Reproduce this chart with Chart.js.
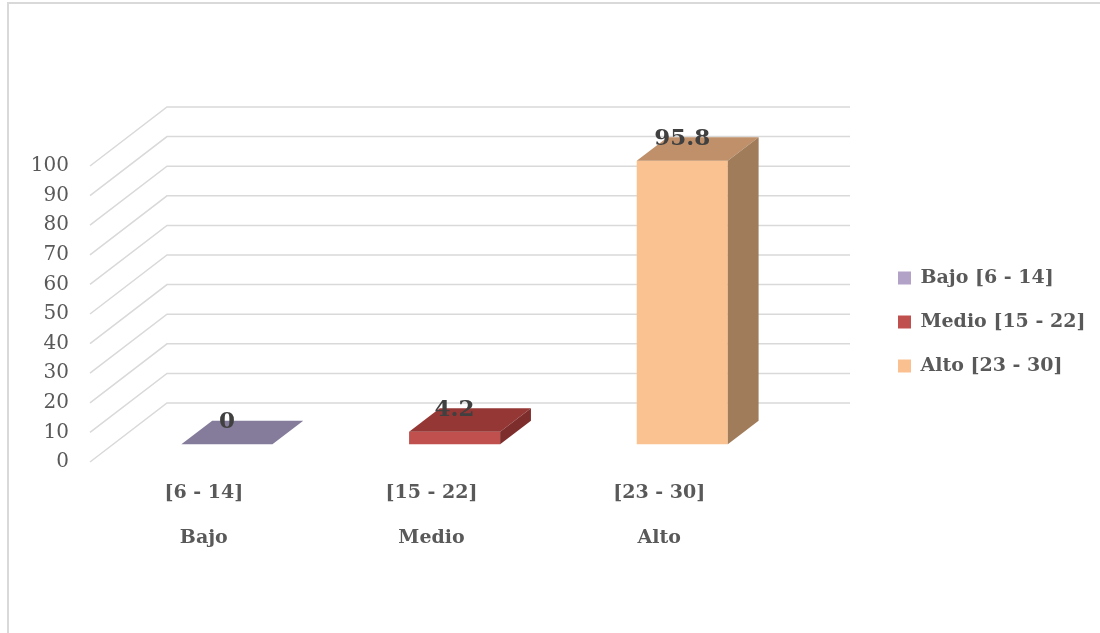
<!DOCTYPE html>
<html>
<head>
<meta charset="utf-8">
<script src="https://cdn.jsdelivr.net/npm/chart.js@4.4.1/dist/chart.umd.min.js"></script>
<style>
  html, body { margin: 0; padding: 0; background: #fff; overflow: hidden; }
  #wrap { position: relative; width: 1100px; height: 633px; }
  #frame { position: absolute; left: 7px; top: 2px; width: 1200px; height: 700px;
           border-left: 2px solid #d9d9d9; border-top: 2px solid #d9d9d9; pointer-events: none; }
</style>
</head>
<body>
<div id="wrap">
  <canvas id="chart"></canvas>
  <div id="frame"></div>
</div>
<script>
// values
const ranges = ['[6 - 14]', '[15 - 22]', '[23 - 30]'];
const levels = ['Bajo', 'Medio', 'Alto'];
const values = [0, 4.2, 95.8];
const yMin = 0, yMax = 100, yStep = 10;

// face colours (front / top / side) and legend swatches
const frontColors = ['#8E81A6', '#C0504D', '#F9C290'];
const topColors = ['#857B9A', '#953735', '#BF9069'];
const sideColors = ['#6E6582', '#7D2D2B', '#A07C5A'];
const legendColors = ['#B3A2C7', '#C0504D', '#FAC090'];

const FONT = 'DejaVu Serif';

// fake 3D: floor depth and where the bars sit in it
const DEPTH_X = 77, DEPTH_Y = -59;
const BAR_FRONT = 0.3, BAR_DEPTH = 0.4;

const fake3d = {
    id: 'fake3d',
    beforeDatasetsDraw(chart) {
        const { ctx, chartArea: a, scales: { y } } = chart;
        // perspective gridlines: diagonal on the side wall, flat on the back wall
        ctx.save();
        ctx.strokeStyle = '#D9D9D9';
        ctx.lineWidth = 1.5;
        y.ticks.forEach(t => {
            const py = y.getPixelForValue(t.value);
            ctx.beginPath();
            ctx.moveTo(a.left, py);
            ctx.lineTo(a.left + DEPTH_X, py + DEPTH_Y);
            ctx.lineTo(a.right + DEPTH_X, py + DEPTH_Y);
            ctx.stroke();
        });
        ctx.restore();
        // push the bars back into the floor
        ctx.save();
        ctx.translate(DEPTH_X * BAR_FRONT, DEPTH_Y * BAR_FRONT);
    },
    afterDatasetsDraw(chart) {
        const { ctx } = chart;
        ctx.restore();
        const dx = DEPTH_X * BAR_DEPTH, dy = DEPTH_Y * BAR_DEPTH;
        ctx.save();
        ctx.translate(DEPTH_X * BAR_FRONT, DEPTH_Y * BAR_FRONT);
        chart.getDatasetMeta(0).data.forEach((bar, i) => {
            const { x, y, base, width } = bar.getProps(['x', 'y', 'base', 'width'], true);
            const l = x - width / 2, r = x + width / 2;
            // top face
            ctx.fillStyle = topColors[i];
            ctx.beginPath();
            ctx.moveTo(l, y);
            ctx.lineTo(r, y);
            ctx.lineTo(r + dx, y + dy);
            ctx.lineTo(l + dx, y + dy);
            ctx.closePath();
            ctx.fill();
            // side face
            if (base - y > 0.5) {
                ctx.fillStyle = sideColors[i];
                ctx.beginPath();
                ctx.moveTo(r, y);
                ctx.lineTo(r + dx, y + dy);
                ctx.lineTo(r + dx, base + dy);
                ctx.lineTo(r, base);
                ctx.closePath();
                ctx.fill();
            }
            // value label
            ctx.fillStyle = '#404040';
            ctx.font = 'bold 23px "' + FONT + '"';
            ctx.textAlign = 'center';
            ctx.textBaseline = 'middle';
            ctx.fillText(String(values[i]), x, y - 22);
        });
        ctx.restore();
    }
};

new Chart(document.getElementById('chart'), {
    type: 'bar',
    data: {
        labels: ranges.map((r, i) => [r, levels[i]]),
        datasets: [{
            label: 'Nivel',
            data: values,
            backgroundColor: frontColors,
            borderWidth: 0,
            barPercentage: 0.4,
            categoryPercentage: 1.0,
            clip: false
        }]
    },
    options: {
        responsive: true,
        maintainAspectRatio: false,
        animation: false,
        layout: { padding: { top: 166, left: 0, right: 12, bottom: 61 } },
        plugins: {
            tooltip: { enabled: false },
            legend: {
                position: 'right',
                fullSize: false,
                maxWidth: 215,
                onClick: null,
                title: { display: true, text: '', font: { size: 10, lineHeight: 1.2 }, padding: 2 },
                labels: {
                    boxWidth: 13,
                    boxHeight: 13,
                    padding: 25,
                    color: '#595959',
                    font: { family: FONT, size: 19, weight: 'bold' },
                    generateLabels: () => levels.map((lv, i) => ({
                        text: lv + ' ' + ranges[i],
                        fillStyle: legendColors[i],
                        strokeStyle: legendColors[i],
                        lineWidth: 0,
                        fontColor: '#595959',
                        index: i
                    }))
                }
            }
        },
        scales: {
            x: {
                grid: { display: false, drawTicks: false },
                border: { display: false },
                ticks: {
                    color: '#595959',
                    padding: 9,
                    font: { family: FONT, size: 19, weight: 'bold', lineHeight: 2.37 }
                },
                afterFit: s => { s.height = 110; }
            },
            y: {
                min: yMin,
                max: yMax,
                grid: { display: false, drawTicks: false },
                border: { display: false },
                ticks: {
                    stepSize: yStep,
                    padding: 21,
                    color: '#595959',
                    font: { family: FONT, size: 20 }
                },
                afterFit: s => { s.width = 90; }
            },
            gap: {
                type: 'linear',
                position: 'right',
                grid: { display: false, drawTicks: false },
                border: { display: false },
                ticks: { display: false },
                afterFit: s => { s.width = 100; }
            }
        }
    },
    plugins: [fake3d]
});
</script>
</body>
</html>
